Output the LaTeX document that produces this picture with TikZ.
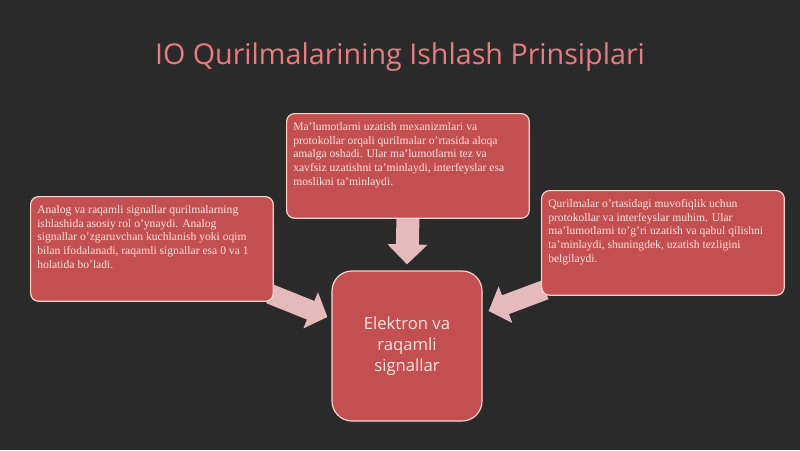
\documentclass[tikz,border=0pt]{standalone}
\usepackage{fontspec}
\setmainfont{Liberation Serif}
\newfontfamily\headfont{Open Sans}
\usepackage{tikz}
\usetikzlibrary{arrows.meta}
\usetikzlibrary{calc}
\usetikzlibrary{positioning}
\definecolor{slidebg}{RGB}{42,42,42}
\definecolor{boxfill}{RGB}{196,79,80}
\definecolor{boxline}{RGB}{248,214,206}
\definecolor{boxtext}{RGB}{252,228,226}
\definecolor{titlecol}{RGB}{232,124,128}
\definecolor{arrowcol}{RGB}{229,186,188}
\pgfdeclarelayer{back}
\pgfdeclarelayer{arrowlayer}
\pgfsetlayers{back,arrowlayer,main}
\tikzstyle{infobox} = [draw=boxline, line width=0.9pt, fill=boxfill, rounded corners=6pt, anchor=north west, inner xsep=5pt, inner ysep=5pt, text=boxtext, font=\fontsize{8.7}{10.3}\selectfont]
\tikzstyle{signalbox} = [draw=boxline, line width=0.9pt, fill=boxfill, rounded corners=15pt, minimum width=112.5pt, minimum height=112.5pt, align=center, text=boxtext, font=\headfont\fontsize{12.5}{15.8}\selectfont]
\tikzstyle{fatarrow} = [draw=arrowcol, line width=15pt, -{Triangle[length=13.5pt, width=28.5pt]}]
\newcommand{\infotext}[1]{\parbox[t][68.5pt][t]{172pt}{\raggedright\vspace*{1.5pt}#1}}

\begin{document}
\begin{tikzpicture}[x=0.75pt, y=-0.75pt]
  \useasboundingbox (0,0) rectangle (800,450);
  \begin{pgfonlayer}{back}
    \fill [slidebg] (0,0) rectangle (800,450);
  \end{pgfonlayer}
  \node [text=titlecol, font=\headfont\fontsize{21.5}{26}\selectfont] (title) at (400,57) {IO Qurilmalarining Ishlash Prinsiplari};
  % three info boxes
  \node [infobox] (uzatish) at (286,113) {\infotext{Ma'lumotlarni uzatish mexanizmlari va\\ protokollar orqali qurilmalar o'rtasida aloqa\\ amalga oshadi. Ular ma'lumotlarni tez va\\ xavfsiz uzatishni ta'minlaydi, interfeyslar esa\\ moslikni ta'minlaydi.}};
  \node [infobox] (analog) at (30,196) {\infotext{Analog va raqamli signallar qurilmalarning\\ ishlashida asosiy rol o'ynaydi. Analog\\ signallar o'zgaruvchan kuchlanish yoki oqim\\ bilan ifodalanadi, raqamli signallar esa 0 va 1\\ holatida bo'ladi.}};
  \node [infobox] (moslik) at (541,190) {\infotext{Qurilmalar o'rtasidagi muvofiqlik uchun\\ protokollar va interfeyslar muhim. Ular\\ ma'lumotlarni to'g'ri uzatish va qabul qilishni\\ ta'minlaydi, shuningdek, uzatish tezligini\\ belgilaydi.}};
  \node [signalbox] (signal) at (407,346) {Elektron va\\ raqamli\\ signallar};
  % arrows into the centre box
  \begin{pgfonlayer}{arrowlayer}
    \draw [fatarrow, line width=17.25pt, -{Triangle[length=15pt, width=29.25pt]}] (uzatish.south) -- ($(signal.north)+(0,-6)$);
    \draw [fatarrow] ($(analog.south east)+(-4,-8)$) -- ($(signal.west)+(-4,-29)$);
    \draw [fatarrow] ($(moslik.south west)+(4,-6)$) -- ($(signal.east)+(6,-35)$);
  \end{pgfonlayer}
\end{tikzpicture}
\end{document}
